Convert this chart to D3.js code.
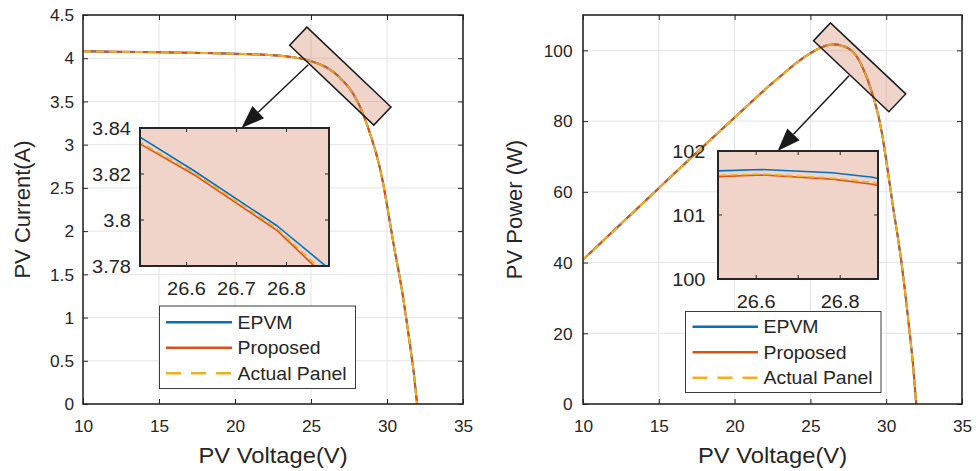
<!DOCTYPE html>
<html>
<head>
<meta charset="utf-8">
<script src="https://cdn.jsdelivr.net/npm/d3@7"></script>
<style>
  body { margin: 0; background: #fff; }
  svg { display: block; font-family: "Liberation Sans", Arial, Helvetica, sans-serif; }
</style>
</head>
<body>
<svg id="chart" width="978" height="471"></svg>
<script>
// ---- measured panel characteristics ----
const voltage = [10, 12, 14, 16, 18, 20, 21, 22, 23, 24, 24.5, 25, 25.5, 26, 26.25,
  26.508, 26.615, 26.781, 26.877, 27, 27.25, 27.5, 27.75, 28, 28.25, 28.5, 28.75,
  29, 29.25, 29.5, 29.75, 30, 30.25, 30.5, 30.75, 31, 31.25, 31.5, 31.75, 31.98];

const currentEPVM = [4.080, 4.076, 4.071, 4.066, 4.060, 4.052, 4.047, 4.040, 4.028, 4.007, 3.990,
  3.966, 3.936, 3.896, 3.870, 3.8359, 3.8214, 3.7975, 3.7803, 3.756, 3.710, 3.660, 3.595,
  3.520, 3.430, 3.320, 3.200, 3.065, 2.920, 2.755, 2.550, 2.300, 2.040, 1.780, 1.550,
  1.300, 1.010, 0.700, 0.380, 0];
const currentProposed = [4.080, 4.076, 4.071, 4.066, 4.060, 4.052, 4.047, 4.040, 4.028, 4.007, 3.990,
  3.966, 3.936, 3.896, 3.867, 3.8330, 3.8197, 3.7955, 3.7755, 3.751, 3.710, 3.660, 3.595,
  3.520, 3.430, 3.320, 3.200, 3.065, 2.920, 2.755, 2.550, 2.300, 2.040, 1.780, 1.550,
  1.300, 1.010, 0.700, 0.380, 0];
const currentActual = [4.080, 4.076, 4.071, 4.066, 4.060, 4.052, 4.047, 4.040, 4.028, 4.007, 3.990,
  3.966, 3.936, 3.896, 3.868, 3.8337, 3.8205, 3.7963, 3.7767, 3.752, 3.710, 3.660, 3.595,
  3.520, 3.430, 3.320, 3.200, 3.065, 2.920, 2.755, 2.550, 2.300, 2.040, 1.780, 1.550,
  1.300, 1.010, 0.700, 0.380, 0];

const powerEPVM = [40.8, 48.9, 57.0, 65.1, 73.1, 81.0, 85.0, 88.9, 92.6, 96.2, 97.8, 99.2, 100.4,
  101.3, 101.59, 101.69, 101.71, 101.66, 101.59, 101.41, 101.1, 100.6, 99.8, 98.6, 96.9,
  94.6, 92.0, 88.9, 85.4, 81.3, 75.9, 69.0, 61.7, 54.3, 47.7, 40.3, 31.6, 22.1, 12.1, 0];
const powerProposed = [40.8, 48.9, 57.0, 65.1, 73.1, 81.0, 85.0, 88.9, 92.6, 96.2, 97.8, 99.2, 100.4,
  101.3, 101.51, 101.60, 101.625, 101.56, 101.48, 101.28, 101.1, 100.6, 99.8, 98.6, 96.9,
  94.6, 92.0, 88.9, 85.4, 81.3, 75.9, 69.0, 61.7, 54.3, 47.7, 40.3, 31.6, 22.1, 12.1, 0];
const powerActual = [40.8, 48.9, 57.0, 65.1, 73.1, 81.0, 85.0, 88.9, 92.6, 96.2, 97.8, 99.2, 100.4,
  101.3, 101.5, 101.62, 101.64, 101.575, 101.51, 101.3, 101.1, 100.6, 99.8, 98.6, 96.9,
  94.6, 92.0, 88.9, 85.4, 81.3, 75.9, 69.0, 61.7, 54.3, 47.7, 40.3, 31.6, 22.1, 12.1, 0];

const seriesNames = ["EPVM", "Proposed", "Actual Panel"];
const voltageTicks = [10, 15, 20, 25, 30, 35];
const currentTicks = [0, 0.5, 1, 1.5, 2, 2.5, 3, 3.5, 4, 4.5];
const powerTicks = [0, 20, 40, 60, 80, 100];
const currentZoomTicksX = [26.6, 26.7, 26.8];
const currentZoomTicksY = [3.78, 3.8, 3.82, 3.84];
const powerZoomTicksX = [26.6, 26.7, 26.8];
const powerZoomLabelsX = [26.6, 26.8];
const powerZoomTicksY = [100, 101, 102];

// ---- styling ----
const colors = ["#0072BD", "#D95319", "#EDB120"];
const dashes = [null, null, "8,5"];
const ink = "#262626";
const gridColor = "#e4e4e4";
const zoomFill = "#f0d4ca";
const STRETCH = 1.08;

const svg = d3.select("#chart");
const defs = svg.append("defs");

// horizontal text is drawn slightly wide
function widen(sel) {
  sel.each(function () {
    const t = d3.select(this);
    const x = +t.attr("x") || 0;
    t.attr("transform", `translate(${x},0) scale(${STRETCH},1) translate(${-x},0)`);
  });
}

let clipId = 0;
function clip(x0, y0, x1, y1) {
  const id = "clip" + (clipId++);
  defs.append("clipPath").attr("id", id).append("rect")
    .attr("x", x0).attr("y", y0).attr("width", x1 - x0).attr("height", y1 - y0);
  return `url(#${id})`;
}

function drawSeries(g, x, y, ys, width, dashArr) {
  ys.forEach((vals, i) => {
    const pts = voltage.map((v, k) => [v, vals[k]]);
    g.append("path")
      .datum(pts)
      .attr("fill", "none")
      .attr("stroke", colors[i])
      .attr("stroke-width", width)
      .attr("stroke-dasharray", dashArr[i])
      .attr("stroke-linejoin", "round")
      .attr("d", d3.line().x(d => x(d[0])).y(d => y(d[1])));
  });
}

function panel(cfg) {
  const g = svg.append("g");
  const x = d3.scaleLinear().domain([10, 35]).range([cfg.x0, cfg.x1]);
  const y = d3.scaleLinear().domain(cfg.yDomain).range([cfg.y1, cfg.y0]);

  // grid
  g.append("g").selectAll("line").data(voltageTicks.slice(1, -1)).join("line")
    .attr("x1", d => x(d)).attr("x2", d => x(d))
    .attr("y1", cfg.y0).attr("y2", cfg.y1)
    .attr("stroke", gridColor).attr("stroke-width", 1);
  g.append("g").selectAll("line").data(cfg.yTicks.filter(d => y(d) > cfg.y0 + 1 && y(d) < cfg.y1 - 1)).join("line")
    .attr("x1", cfg.x0).attr("x2", cfg.x1)
    .attr("y1", d => y(d)).attr("y2", d => y(d))
    .attr("stroke", gridColor).attr("stroke-width", 1);

  // curves
  const cg = g.append("g").attr("clip-path", clip(cfg.x0, cfg.y0, cfg.x1, cfg.y1));
  drawSeries(cg, x, y, cfg.series, 2, dashes);

  // axes with inward ticks on all sides
  const styleAxis = a => {
    a.select(".domain").remove();
    a.selectAll(".tick line").attr("stroke", ink).attr("stroke-width", 1);
    a.selectAll("text").attr("fill", ink).attr("font-size", 16).attr("font-family", null);
  };
  const xb = g.append("g").attr("transform", `translate(0,${cfg.y1})`)
    .call(d3.axisBottom(x).tickValues(voltageTicks).tickSizeInner(-5).tickSizeOuter(0).tickPadding(16.5).tickFormat(d3.format("d")));
  styleAxis(xb); widen(xb.selectAll("text"));
  const xt = g.append("g").attr("transform", `translate(0,${cfg.y0})`)
    .call(d3.axisTop(x).tickValues(voltageTicks).tickSizeInner(-5).tickSizeOuter(0).tickFormat(""));
  styleAxis(xt);
  const yl = g.append("g").attr("transform", `translate(${cfg.x0},0)`)
    .call(d3.axisLeft(y).tickValues(cfg.yTicks).tickSizeInner(-5).tickSizeOuter(0).tickPadding(cfg.yPad).tickFormat(d => String(d)));
  styleAxis(yl);
  yl.selectAll("text").attr("dy", "0.36em");
  widen(yl.selectAll("text"));
  const yr = g.append("g").attr("transform", `translate(${cfg.x1},0)`)
    .call(d3.axisRight(y).tickValues(cfg.yTicks).tickSizeInner(-5).tickSizeOuter(0).tickFormat(""));
  styleAxis(yr);

  g.append("rect")
    .attr("x", cfg.x0).attr("y", cfg.y0)
    .attr("width", cfg.x1 - cfg.x0).attr("height", cfg.y1 - cfg.y0)
    .attr("fill", "none").attr("stroke", ink).attr("stroke-width", 1.6);

  // axis titles
  const xl = g.append("text")
    .attr("x", (cfg.x0 + cfg.x1) / 2).attr("y", 463)
    .attr("text-anchor", "middle").attr("font-size", 22).attr("fill", ink)
    .text("PV Voltage(V)");
  widen(xl);
  g.append("text")
    .attr("transform", `translate(${cfg.yTitleX},${(cfg.y0 + cfg.y1) / 2}) rotate(-90)`)
    .attr("text-anchor", "middle").attr("font-size", 22).attr("fill", ink)
    .text(cfg.yTitle);

  // rotated zoom marker over the knee
  const zb = cfg.zoomBox;
  g.append("rect")
    .attr("transform", `translate(${x(zb.v)},${y(zb.val)}) rotate(${zb.angle})`)
    .attr("x", -zb.length / 2).attr("y", -zb.width / 2)
    .attr("width", zb.length).attr("height", zb.width)
    .attr("fill", "rgb(205,112,78)").attr("fill-opacity", 0.3)
    .attr("stroke", "#1a1a1a").attr("stroke-width", 1.5);

  // inset
  const ins = cfg.inset;
  const ix = d3.scaleLinear().domain(ins.xDomain).range([ins.x0, ins.x1]);
  const iy = d3.scaleLinear().domain(ins.yDomain).range([ins.y1, ins.y0]);

  // arrow from zoom marker to inset
  const ax0 = x(cfg.arrow.v), ay0 = y(cfg.arrow.val);
  const ax1 = ix(cfg.arrow.tipX), ay1 = ins.y0;
  const dx = ax1 - ax0, dy = ay1 - ay0, len = Math.hypot(dx, dy);
  const ux = dx / len, uy = dy / len;
  const headL = 23, headW = 8.5;
  const bx = ax1 - ux * headL, by = ay1 - uy * headL;
  g.append("line")
    .attr("x1", ax0).attr("y1", ay0).attr("x2", bx).attr("y2", by)
    .attr("stroke", "#1a1a1a").attr("stroke-width", 1.5);
  g.append("path")
    .attr("d", `M${ax1},${ay1}L${bx - uy * headW},${by + ux * headW}L${bx + uy * headW},${by - ux * headW}Z`)
    .attr("fill", "#1a1a1a");

  const ig = g.append("g");
  ig.append("rect")
    .attr("x", ins.x0).attr("y", ins.y0)
    .attr("width", ins.x1 - ins.x0).attr("height", ins.y1 - ins.y0)
    .attr("fill", zoomFill);
  const icg = ig.append("g").attr("clip-path", clip(ins.x0, ins.y0, ins.x1, ins.y1));
  drawSeries(icg, ix, iy, cfg.series, 1.6, [null, null, "7,4"]);

  // inset ticks (inward, all sides)
  ins.xTicks.forEach(t => {
    [[ins.y1, -4], [ins.y0, 4]].forEach(([yy, s]) => {
      ig.append("line").attr("x1", ix(t)).attr("x2", ix(t)).attr("y1", yy).attr("y2", yy + s)
        .attr("stroke", ink).attr("stroke-width", 1);
    });
  });
  ins.yTicks.forEach(t => {
    [[ins.x0, 4], [ins.x1, -4]].forEach(([xx, s]) => {
      ig.append("line").attr("y1", iy(t)).attr("y2", iy(t)).attr("x1", xx).attr("x2", xx + s)
        .attr("stroke", ink).attr("stroke-width", 1);
    });
  });
  ig.append("rect")
    .attr("x", ins.x0).attr("y", ins.y0)
    .attr("width", ins.x1 - ins.x0).attr("height", ins.y1 - ins.y0)
    .attr("fill", "none").attr("stroke", ink).attr("stroke-width", 2);

  const ixl = ig.append("g").selectAll("text").data(ins.xLabels).join("text")
    .attr("x", d => ix(d)).attr("y", ins.y1 + 29.5)
    .attr("text-anchor", "middle").attr("font-size", 18.5).attr("fill", ink)
    .text(d => d.toFixed(1));
  widen(ixl);
  const iyl = ig.append("g").selectAll("text").data(ins.yTicks).join("text")
    .attr("x", ins.x0 - ins.yPad).attr("y", d => iy(d)).attr("dy", "0.36em")
    .attr("text-anchor", "end").attr("font-size", 18.5).attr("fill", ink)
    .text(ins.yFmt);
  widen(iyl);

  // legend
  const lg = cfg.legend;
  const lgG = g.append("g");
  lgG.append("rect")
    .attr("x", lg.x0).attr("y", lg.y0)
    .attr("width", lg.x1 - lg.x0).attr("height", lg.y1 - lg.y0)
    .attr("fill", "#fff").attr("stroke", "#3c3c3c").attr("stroke-width", 1);
  seriesNames.forEach((name, i) => {
    const ry = lg.rows[i];
    lgG.append("line")
      .attr("x1", lg.lineX0).attr("x2", lg.lineX1).attr("y1", ry).attr("y2", ry)
      .attr("stroke", colors[i]).attr("stroke-width", 2.6)
      .attr("stroke-dasharray", i === 2 ? "15,10" : null);
    const t = lgG.append("text")
      .attr("x", lg.textX).attr("y", ry).attr("dy", "0.36em")
      .attr("font-size", 18).attr("fill", ink)
      .text(name);
    widen(t);
  });
}

panel({
  x0: 83, x1: 463, y0: 15, y1: 404,
  yDomain: [0, 4.5], yTicks: currentTicks, yPad: 9,
  yTitle: "PV Current(A)", yTitleX: 30,
  series: [currentEPVM, currentProposed, currentActual],
  zoomBox: { v: 26.93, val: 3.793, length: 116, width: 25, angle: 43.5 },
  arrow: { v: 24.82, val: 3.924, tipX: 26.71 },
  inset: {
    x0: 140, x1: 329, y0: 128, y1: 266,
    xDomain: [26.507, 26.885], yDomain: [3.78, 3.84],
    xTicks: currentZoomTicksX, xLabels: currentZoomTicksX,
    yTicks: currentZoomTicksY, yPad: 9,
    yFmt: d => String(+d.toFixed(2))
  },
  legend: {
    x0: 159.5, x1: 355.5, y0: 306, y1: 388.5,
    lineX0: 166, lineX1: 232, textX: 237.5,
    rows: [322.3, 347.7, 373.3]
  }
});

panel({
  x0: 583, x1: 962, y0: 15, y1: 404,
  yDomain: [0, 110], yTicks: powerTicks, yPad: 10.5,
  yTitle: "PV Power (W)", yTitleX: 522,
  series: [powerEPVM, powerProposed, powerActual],
  zoomBox: { v: 28.25, val: 95.2, length: 103.5, width: 24.6, angle: 43.3 },
  arrow: { v: 27.55, val: 92.8, tipX: 26.651 },
  inset: {
    x0: 718, x1: 878, y0: 151, y1: 279,
    xDomain: [26.509, 26.890], yDomain: [100, 102],
    xTicks: powerZoomTicksX, xLabels: powerZoomLabelsX,
    yTicks: powerZoomTicksY, yPad: 12.5,
    yFmt: d => String(d)
  },
  legend: {
    x0: 685.5, x1: 881, y0: 311.5, y1: 392.5,
    lineX0: 692.5, lineX1: 758, textX: 763.5,
    rows: [326.7, 352.3, 377.7]
  }
});
</script>
</body>
</html>
